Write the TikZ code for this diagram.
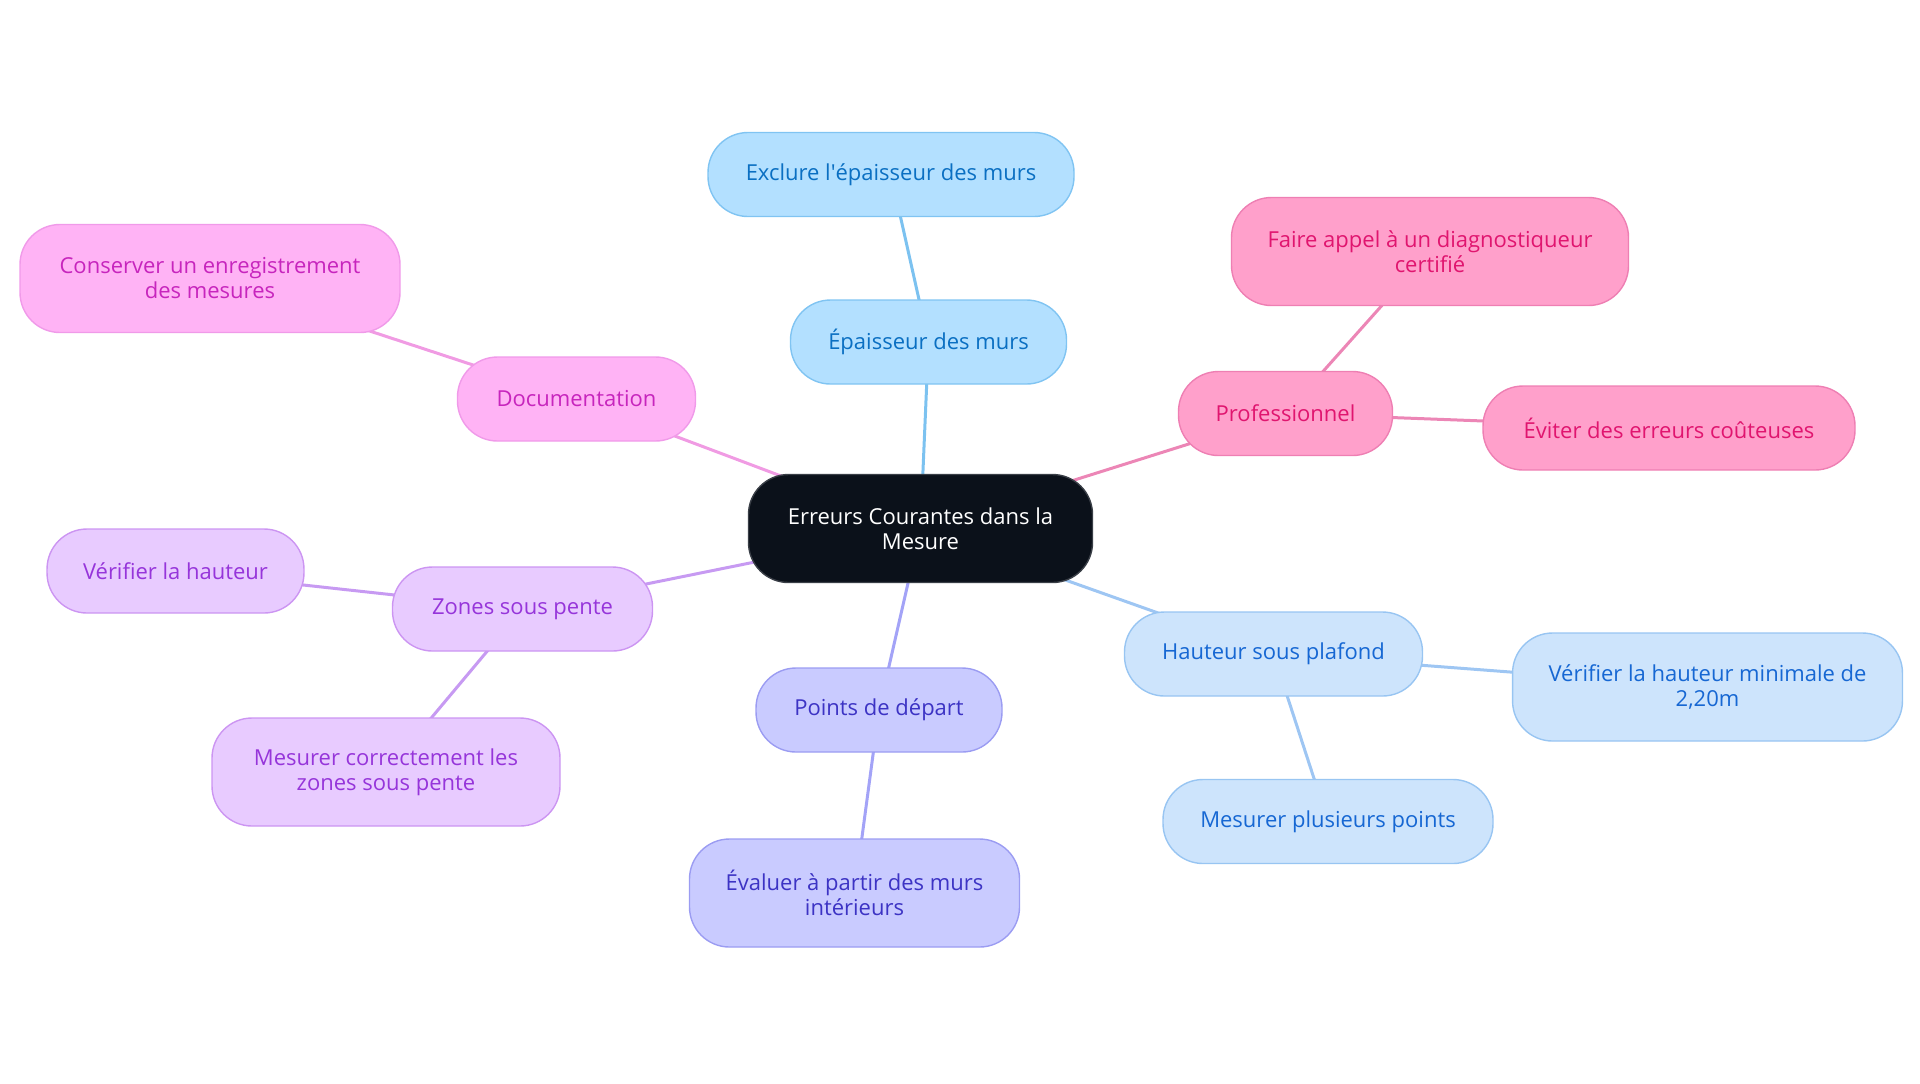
\documentclass[tikz,border=0pt]{standalone}
\usepackage{fontspec}
\setmainfont{Open Sans}
\usetikzlibrary{positioning}
\usetikzlibrary{backgrounds}

\definecolor{rootfill}{HTML}{0B111A}
\definecolor{rootdraw}{HTML}{3A3F47}
\definecolor{skyfill}{HTML}{B3E0FF}
\definecolor{skydraw}{HTML}{80C4F2}
\definecolor{skytext}{HTML}{0A6FC2}
\definecolor{skyline}{HTML}{7CC2F0}
\definecolor{rosefill}{HTML}{FFA0CB}
\definecolor{rosedraw}{HTML}{EE7FB3}
\definecolor{rosetext}{HTML}{E0156F}
\definecolor{roseline}{HTML}{EC86B6}
\definecolor{magfill}{HTML}{FFB3F5}
\definecolor{magdraw}{HTML}{F09AE9}
\definecolor{magtext}{HTML}{C725BD}
\definecolor{magline}{HTML}{F09BE3}
\definecolor{lilafill}{HTML}{E8CBFF}
\definecolor{liladraw}{HTML}{CC95F2}
\definecolor{lilatext}{HTML}{9635DA}
\definecolor{lilaline}{HTML}{C79AF2}
\definecolor{indfill}{HTML}{C9CBFF}
\definecolor{inddraw}{HTML}{9B9CF2}
\definecolor{indtext}{HTML}{3C33C4}
\definecolor{indline}{HTML}{A3A3F7}
\definecolor{palefill}{HTML}{CDE4FC}
\definecolor{paledraw}{HTML}{98C5F2}
\definecolor{paletext}{HTML}{1667D3}
\definecolor{paleline}{HTML}{9EC6F3}

\begin{document}
\begin{tikzpicture}[x=0.5pt, y=-0.5pt,
			idea/.style={draw, rectangle, rounded corners=20pt, line width=0.7pt, minimum height=42pt, inner xsep=18pt, align=center, font=\fontsize{11}{12.5}\selectfont},
			tall/.style={minimum height=54pt},
			root/.style={idea, tall, fill=rootfill, draw=rootdraw, text=white},
			sky/.style={idea, fill=skyfill, draw=skydraw, text=skytext},
			rose/.style={idea, fill=rosefill, draw=rosedraw, text=rosetext},
			mag/.style={idea, fill=magfill, draw=magdraw, text=magtext},
			lila/.style={idea, fill=lilafill, draw=liladraw, text=lilatext},
			ind/.style={idea, fill=indfill, draw=inddraw, text=indtext},
			pale/.style={idea, fill=palefill, draw=paledraw, text=paletext},
			link/.style={line width=1.5pt}]
			\useasboundingbox (0, 0) rectangle (1920, 1083);
			
			\node[root, minimum width=172pt](root) at (920.5, 528.5) {Erreurs Courantes dans la\\Mesure};
			
			\node[sky, minimum width=138pt](epaisseur) at (928.5, 342) {Épaisseur des murs};
			\node[sky, minimum width=183pt](exclure) at (891, 174.5) {Exclure l\textquotesingle épaisseur des murs};
			
			\node[rose, minimum width=107pt](pro) at (1285.5, 413.5) {Professionnel};
			\node[rose, tall, minimum width=198pt](diag) at (1430, 251.5) {Faire appel à un diagnostiqueur\\certifié};
			\node[rose, minimum width=186pt](eviter) at (1669, 428) {Éviter des erreurs coûteuses};
			
			\node[mag, minimum width=119pt](doc) at (576.5, 399) {Documentation};
			\node[mag, tall, minimum width=190pt](conserver) at (210, 278.5) {Conserver un enregistrement\\des mesures};
			
			\node[lila, minimum width=130pt](zones) at (522.5, 609) {Zones sous pente};
			\node[lila, minimum width=128pt](vhauteur) at (175.5, 571) {Vérifier la hauteur};
			\node[lila, tall, minimum width=174pt](mesurer) at (386, 772) {Mesurer correctement les\\zones sous pente};
			
			\node[ind, minimum width=123pt](depart) at (879, 710) {Points de départ};
			\node[ind, tall, minimum width=165pt](evaluer) at (854.5, 893) {Évaluer à partir des murs\\intérieurs};
			
			\node[pale, minimum width=149pt](plafond) at (1273.5, 654) {Hauteur sous plafond};
			\node[pale, tall, minimum width=192pt](minimale) at (1707.5, 687) {Vérifier la hauteur minimale de\\2,20m};
			\node[pale, minimum width=165pt](points) at (1328, 821.5) {Mesurer plusieurs points};
			
			\begin{scope}[on background layer]
			\draw[link, skyline] (root.center) -- (epaisseur.center);
			\draw[link, skyline] (epaisseur.center) -- (exclure.center);
			\draw[link, roseline] (root.center) -- (pro.center);
			\draw[link, roseline] (pro.center) -- (diag.center);
			\draw[link, roseline] (pro.center) -- (eviter.center);
			\draw[link, magline] (root.center) -- (doc.center);
			\draw[link, magline] (doc.center) -- (conserver.center);
			\draw[link, lilaline] (root.center) -- (zones.center);
			\draw[link, lilaline] (zones.center) -- (vhauteur.center);
			\draw[link, lilaline] (zones.center) -- (mesurer.center);
			\draw[link, indline] (root.center) -- (depart.center);
			\draw[link, indline] (depart.center) -- (evaluer.center);
			\draw[link, paleline] (root.center) -- (plafond.center);
			\draw[link, paleline] (plafond.center) -- (minimale.center);
			\draw[link, paleline] (plafond.center) -- (points.center);
			\end{scope}
			\end{tikzpicture}
\end{document}
